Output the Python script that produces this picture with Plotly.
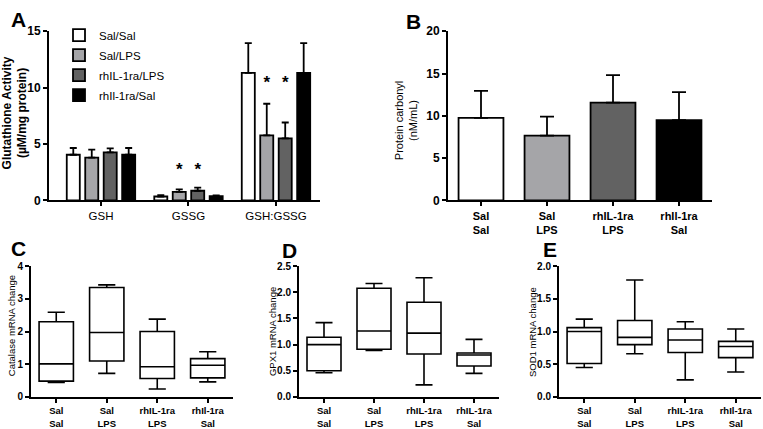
import plotly.graph_objects as go

W, H = 763, 429
FONT = "Arial, Liberation Sans, sans-serif"

# ---------------- Panel A data ----------------
a_groups = ["GSH", "GSSG", "GSH:GSSG"]
a_series = ["Sal/Sal", "Sal/LPS", "rhIL-1ra/LPS", "rhIl-1ra/Sal"]
a_colors = ["#ffffff", "#a5a5a8", "#626262", "#000000"]
a_sal_sal = [4.05, 0.35, 11.3]
a_sal_lps = [3.8, 0.77, 5.77]
a_rhil_lps = [4.26, 0.86, 5.51]
a_rhil_sal = [4.05, 0.38, 11.3]
a_err_sal_sal = [0.6, 0.12, 2.65]
a_err_sal_lps = [0.7, 0.22, 2.8]
a_err_rhil_lps = [0.35, 0.28, 1.4]
a_err_rhil_sal = [0.6, 0.08, 2.65]
a_star_groups = [1, 1, 2, 2]
a_star_series = [1, 2, 1, 2]
a_star_y = [2.6, 2.6, 10.3, 10.3]

# ---------------- Panel B data ----------------
b_labels = ["Sal<br>Sal", "Sal<br>LPS", "rhIL-1ra<br>LPS", "rhIl-1ra<br>Sal"]
b_values = [9.75, 7.65, 11.55, 9.5]
b_err = [3.2, 2.25, 3.25, 3.3]

# ---------------- Panels C, D, E data (box plots) ----------------
c_labels = ["Sal<br>Sal", "Sal<br>LPS", "rhIL-1ra<br>LPS", "rhIl-1ra<br>Sal"]
c_min = [0.44, 0.72, 0.24, 0.46]
c_q1 = [0.48, 1.1, 0.56, 0.58]
c_med = [1.01, 1.97, 0.92, 0.97]
c_q3 = [2.3, 3.35, 2.0, 1.17]
c_max = [2.59, 3.43, 2.38, 1.38]

d_labels = ["Sal<br>Sal", "Sal<br>LPS", "rhIL-1ra<br>LPS", "rhIL-1ra<br>Sal"]
d_min = [0.46, 0.89, 0.23, 0.45]
d_q1 = [0.5, 0.91, 0.82, 0.59]
d_med = [1.0, 1.26, 1.22, 0.8]
d_q3 = [1.14, 2.08, 1.81, 0.84]
d_max = [1.42, 2.17, 2.28, 1.1]

e_labels = ["Sal<br>Sal", "Sal<br>LPS", "rhIL-1ra<br>LPS", "rhIl-1ra<br>Sal"]
e_min = [0.45, 0.66, 0.26, 0.38]
e_q1 = [0.51, 0.8, 0.68, 0.6]
e_med = [1.0, 0.91, 0.87, 0.77]
e_q3 = [1.06, 1.17, 1.04, 0.85]
e_max = [1.19, 1.79, 1.15, 1.04]


def px_x(p):
    return p / W


def px_y(p):
    return 1 - p / H


fig = go.Figure()

# ---- Panel A bars ----
slot = 0.211
bar_w = 0.149
a_vals = [a_sal_sal, a_sal_lps, a_rhil_lps, a_rhil_sal]
a_errs = [a_err_sal_sal, a_err_sal_lps, a_err_rhil_lps, a_err_rhil_sal]
for i, name in enumerate(a_series):
    off = (i - 1.5) * slot
    fig.add_trace(go.Bar(
        x=list(range(len(a_groups))), y=a_vals[i], name=name,
        width=bar_w, offset=off - bar_w / 2,
        marker=dict(color=a_colors[i], line=dict(color="black", width=1.8)),
        error_y=dict(type="data", symmetric=False, array=a_errs[i],
                     arrayminus=[0] * len(a_groups), color="black",
                     thickness=1.8, width=3.5),
        xaxis="x", yaxis="y", legendgroup=name,
    ))

star_x = [g + (s - 1.5) * slot for g, s in zip(a_star_groups, a_star_series)]
fig.add_trace(go.Scatter(
    x=star_x, y=a_star_y, mode="text", text=["*"] * len(star_x),
    textfont=dict(family=FONT, size=17, color="black", weight=700),
    textposition="middle center", showlegend=False, hoverinfo="skip",
    xaxis="x", yaxis="y",
))

# ---- Panel B bars ----
fig.add_trace(go.Bar(
    x=list(range(len(b_labels))), y=b_values, width=0.68,
    marker=dict(color=a_colors, line=dict(color="black", width=1.8)),
    error_y=dict(type="data", symmetric=False, array=b_err,
                 arrayminus=[0] * len(b_labels), color="black",
                 thickness=1.8, width=7),
    showlegend=False, xaxis="x2", yaxis="y2",
))

# ---- Box panels ----
for (labels, mn, q1, md, q3, mx, ax) in [
    (c_labels, c_min, c_q1, c_med, c_q3, c_max, "3"),
    (d_labels, d_min, d_q1, d_med, d_q3, d_max, "4"),
    (e_labels, e_min, e_q1, e_med, e_q3, e_max, "5"),
]:
    fig.add_trace(go.Box(
        x=list(range(len(labels))), q1=q1, median=md, q3=q3,
        lowerfence=mn, upperfence=mx, boxpoints=False,
        width=0.68, whiskerwidth=0.5, fillcolor="white",
        line=dict(color="black", width=1.6), showlegend=False,
        xaxis="x" + ax, yaxis="y" + ax,
    ))

axis_common = dict(showline=True, linecolor="black", linewidth=2,
                   showgrid=False, zeroline=False, ticks="outside",
                   tickcolor="black", tickwidth=2, ticklen=4)

fig.update_layout(
    width=W, height=H, margin=dict(l=0, r=0, t=0, b=0),
    paper_bgcolor="white", plot_bgcolor="white",
    font=dict(family=FONT, color="black"),
    showlegend=True,
    legend=dict(x=px_x(59), y=px_y(14), xanchor="left", yanchor="top",
                font=dict(family=FONT, size=11.5, color="black"),
                bgcolor="rgba(0,0,0,0)", tracegroupgap=1),
    # Panel A
    xaxis=dict(domain=[px_x(49), px_x(320)], range=[-0.594, 2.503],
               tickvals=list(range(len(a_groups))), ticktext=a_groups,
               tickfont=dict(size=11.5), anchor="y", **axis_common),
    yaxis=dict(domain=[px_y(200), px_y(25)], range=[0, 15], dtick=5,
               tickfont=dict(size=12, weight=700), anchor="x", **axis_common),
    # Panel B
    xaxis2=dict(domain=[px_x(448), px_x(712)], range=[-0.5, 3.5],
                tickvals=list(range(len(b_labels))), ticktext=b_labels,
                tickfont=dict(size=11, weight=700), anchor="y2", **axis_common),
    yaxis2=dict(domain=[px_y(200), px_y(25)], range=[0, 20], dtick=5,
                tickfont=dict(size=12, weight=700), anchor="x2", **axis_common),
    # Panel C
    xaxis3=dict(domain=[px_x(31), px_x(233)], range=[-0.5, 3.5],
                tickvals=list(range(len(c_labels))), ticktext=c_labels,
                tickfont=dict(size=9.5, weight=700), anchor="y3", **axis_common),
    yaxis3=dict(domain=[px_y(403), px_y(268)], range=[0, 4], dtick=1,
                tickfont=dict(size=10, weight=700), anchor="x3", **axis_common),
    # Panel D
    xaxis4=dict(domain=[px_x(299), px_x(499)], range=[-0.5, 3.5],
                tickvals=list(range(len(d_labels))), ticktext=d_labels,
                tickfont=dict(size=9.5, weight=700), anchor="y4", **axis_common),
    yaxis4=dict(domain=[px_y(403), px_y(268)], range=[0, 2.5], dtick=0.5,
                tickformat=".1f",
                tickfont=dict(size=10, weight=700), anchor="x4", **axis_common),
    # Panel E
    xaxis5=dict(domain=[px_x(559), px_x(761)], range=[-0.5, 3.5],
                tickvals=list(range(len(e_labels))), ticktext=e_labels,
                tickfont=dict(size=9.5, weight=700), anchor="y5", **axis_common),
    yaxis5=dict(domain=[px_y(403), px_y(268)], range=[0, 2], dtick=0.5,
                tickformat=".1f",
                tickfont=dict(size=10, weight=700), anchor="x5", **axis_common),
)

annos = []
# Panel letters
for letter, x, y in [("A", 18, 13), ("B", 413, 15), ("C", 18, 250),
                     ("D", 289, 252), ("E", 550, 251)]:
    annos.append(dict(text=letter, x=px_x(x), y=px_y(y), xref="paper", yref="paper",
                      xanchor="center", yanchor="middle", showarrow=False,
                      font=dict(family=FONT, size=21, weight=700, color="black")))
# Y axis titles
for text, x, y, size, weight in [
    ("Glutathione Activity<br>(µM/mg protein)", 15, 110, 12, 700),
    ("Protein carbonyl<br>(nM/mL)", 406, 117, 11, 400),
    ("Catalase mRNA change", 11, 330, 9.5, 400),
    ("GPX1 mRNA change", 272, 336, 9.5, 400),
    ("SOD1 mRNA change", 532, 336, 9.5, 400),
]:
    annos.append(dict(text=text, x=px_x(x), y=px_y(y), xref="paper", yref="paper",
                      xanchor="center", yanchor="middle", showarrow=False,
                      textangle=-90,
                      font=dict(family=FONT, size=size, weight=weight, color="black")))
fig.update_layout(annotations=annos)

# Remove the browser's default 8px body margin so the figure fills the window.
fig.write_html("out.html",
               config={"displayModeBar": False},
               post_script="document.body.style.margin='0';"
                           "document.body.style.overflow='hidden';")
